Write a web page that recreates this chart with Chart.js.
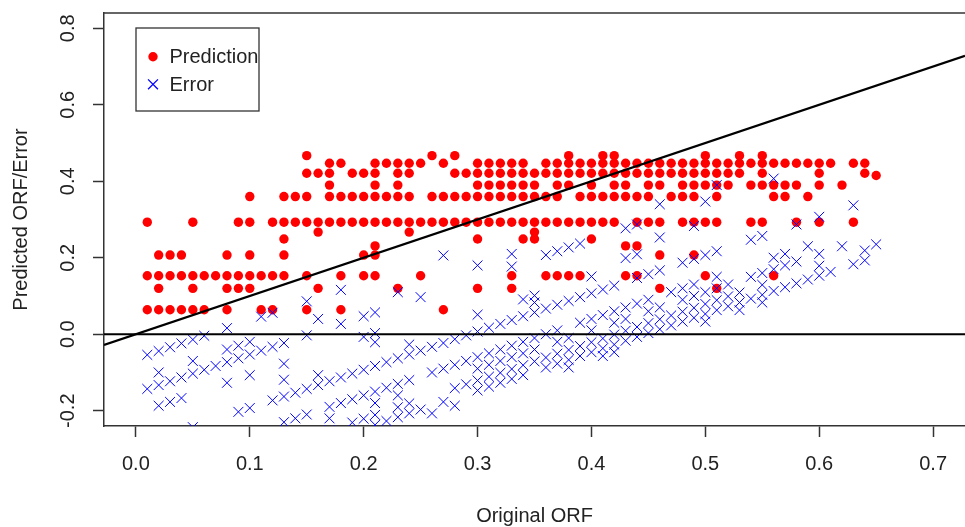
<!DOCTYPE html>
<html>
<head>
<meta charset="utf-8">
<title>Predicted ORF / Error vs Original ORF</title>
<script src="https://cdn.jsdelivr.net/npm/chart.js@4.4.1/dist/chart.umd.min.js"></script>
<style>
  html, body { margin: 0; padding: 0; background: #fff; overflow: hidden; }
  #wrap { width: 965px; height: 527px; overflow: hidden; }
</style>
</head>
<body>
<div id="wrap"><canvas id="orfPlot" width="973" height="527"></canvas></div>
<script>
// one entry per sample: original ORF, model prediction, residual (original - predicted)
const orf = [
  0.01,0.01,0.01, 0.02,0.02,0.02,0.02, 0.03,0.03,0.03, 0.04,0.04,0.04,
  0.05,0.05,0.05,0.05, 0.06,0.06, 0.07, 0.08,0.08,0.08,0.08, 0.09,0.09,0.09,
  0.10,0.10,0.10,0.10,0.10, 0.11,0.11, 0.12,0.12,0.12, 0.13,0.13,0.13,0.13,0.13,
  0.14,0.14, 0.15,0.15,0.15,0.15,0.15,0.15, 0.16,0.16,0.16,0.16,
  0.17,0.17,0.17,0.17,0.17, 0.18,0.18,0.18,0.18,0.18, 0.19,0.19,0.19,
  0.20,0.20,0.20,0.20,0.20, 0.21,0.21,0.21,0.21,0.21,0.21,0.21,0.21,
  0.22,0.22,0.22, 0.23,0.23,0.23,0.23,0.23,0.23, 0.24,0.24,0.24,0.24,0.24,
  0.25,0.25,0.25, 0.26,0.26,0.26, 0.27,0.27,0.27,0.27, 0.28,0.28,0.28,0.28,
  0.29,0.29,0.29, 0.30,0.30,0.30,0.30,0.30,0.30,0.30, 0.31,0.31,0.31,0.31,0.31,
  0.32,0.32,0.32,0.32,0.32, 0.33,0.33,0.33,0.33,0.33,0.33,0.33,
  0.34,0.34,0.34,0.34,0.34,0.34, 0.35,0.35,0.35,0.35,0.35,0.35,
  0.36,0.36,0.36,0.36,0.36, 0.37,0.37,0.37,0.37,0.37,0.37,
  0.38,0.38,0.38,0.38,0.38,0.38, 0.39,0.39,0.39,0.39,0.39,
  0.40,0.40,0.40,0.40,0.40,0.40, 0.41,0.41,0.41,0.41,0.41,
  0.42,0.42,0.42,0.42,0.42,0.42, 0.43,0.43,0.43,0.43,0.43,0.43,
  0.44,0.44,0.44,0.44,0.44,0.44, 0.45,0.45,0.45,0.45,0.45,
  0.46,0.46,0.46,0.46,0.46,0.46, 0.47,0.47,0.47, 0.48,0.48,0.48,0.48,0.48,
  0.49,0.49,0.49,0.49,0.49,0.49, 0.50,0.50,0.50,0.50,0.50,0.50,
  0.51,0.51,0.51,0.51,0.51,0.51, 0.52,0.52,0.52, 0.53,0.53,0.53, 0.54,0.54,0.54,
  0.55,0.55,0.55,0.55,0.55, 0.56,0.56,0.56,0.56, 0.57,0.57,0.57, 0.58,0.58,0.58,
  0.59,0.59, 0.60,0.60,0.60,0.60, 0.61, 0.62, 0.63,0.63, 0.64,0.64, 0.65
];

const predicted = [
  0.293,0.153,0.064, 0.207,0.153,0.12,0.064, 0.207,0.153,0.064, 0.207,0.153,0.064,
  0.293,0.153,0.12,0.064, 0.153,0.064, 0.153, 0.207,0.153,0.12,0.064, 0.293,0.153,0.12,
  0.36,0.293,0.207,0.153,0.12, 0.153,0.064, 0.293,0.153,0.064, 0.36,0.293,0.249,0.207,0.153,
  0.36,0.293, 0.467,0.421,0.36,0.293,0.153,0.064, 0.421,0.293,0.267,0.12,
  0.447,0.421,0.39,0.36,0.293, 0.447,0.36,0.293,0.153,0.064, 0.421,0.36,0.293,
  0.421,0.36,0.293,0.207,0.153, 0.447,0.421,0.39,0.36,0.293,0.231,0.207,0.153,
  0.447,0.36,0.293, 0.447,0.421,0.39,0.36,0.293,0.12, 0.447,0.421,0.36,0.293,0.267,
  0.447,0.293,0.153, 0.467,0.36,0.293, 0.447,0.36,0.293,0.064, 0.467,0.421,0.36,0.293,
  0.421,0.36,0.293, 0.447,0.421,0.39,0.36,0.293,0.249,0.12, 0.447,0.421,0.39,0.36,0.293,
  0.447,0.421,0.39,0.36,0.293, 0.447,0.421,0.39,0.36,0.293,0.153,0.12,
  0.447,0.421,0.39,0.36,0.293,0.249, 0.421,0.39,0.36,0.293,0.267,0.249,
  0.447,0.421,0.36,0.293,0.153, 0.447,0.421,0.39,0.36,0.293,0.153,
  0.467,0.447,0.421,0.39,0.293,0.153, 0.447,0.421,0.36,0.293,0.153,
  0.447,0.421,0.39,0.36,0.293,0.249, 0.467,0.447,0.421,0.36,0.293,
  0.467,0.447,0.421,0.39,0.36,0.293, 0.447,0.421,0.39,0.36,0.231,0.153,
  0.447,0.421,0.36,0.293,0.231,0.153, 0.447,0.421,0.39,0.36,0.293,
  0.447,0.421,0.39,0.293,0.207,0.12, 0.447,0.421,0.36, 0.447,0.421,0.39,0.36,0.293,
  0.447,0.421,0.39,0.36,0.293,0.207, 0.467,0.447,0.421,0.39,0.293,0.153,
  0.447,0.421,0.39,0.36,0.293,0.12, 0.447,0.421,0.39, 0.467,0.447,0.421, 0.447,0.39,0.293,
  0.467,0.447,0.421,0.39,0.293, 0.447,0.39,0.36,0.153, 0.447,0.39,0.36, 0.447,0.39,0.293,
  0.447,0.36, 0.447,0.421,0.39,0.293, 0.447, 0.39, 0.447,0.293, 0.447,0.421, 0.415
];

const error = [
  -0.283,-0.143,-0.054, -0.187,-0.133,-0.1,-0.044, -0.177,-0.123,-0.034, -0.167,-0.113,-0.024,
  -0.243,-0.103,-0.07,-0.014, -0.093,-0.004, -0.083, -0.127,-0.073,-0.04,0.016, -0.203,-0.063,-0.03,
  -0.26,-0.193,-0.107,-0.053,-0.02, -0.043,0.046, -0.173,-0.033,0.056, -0.23,-0.163,-0.119,-0.077,-0.023,
  -0.22,-0.153, -0.317,-0.271,-0.21,-0.143,-0.003,0.086, -0.261,-0.133,-0.107,0.04,
  -0.277,-0.251,-0.22,-0.19,-0.123, -0.267,-0.18,-0.113,0.027,0.116, -0.231,-0.17,-0.103,
  -0.221,-0.16,-0.093,-0.007,0.047, -0.237,-0.211,-0.18,-0.15,-0.083,-0.021,0.003,0.057,
  -0.227,-0.14,-0.073, -0.217,-0.191,-0.16,-0.13,-0.063,0.11, -0.207,-0.181,-0.12,-0.053,-0.027,
  -0.197,-0.043,0.097, -0.207,-0.1,-0.033, -0.177,-0.09,-0.023,0.206, -0.187,-0.141,-0.08,-0.013,
  -0.131,-0.07,-0.003, -0.147,-0.121,-0.09,-0.06,0.007,0.051,0.18, -0.137,-0.111,-0.08,-0.05,0.017,
  -0.127,-0.101,-0.07,-0.04,0.027, -0.117,-0.091,-0.06,-0.03,0.037,0.177,0.21,
  -0.107,-0.081,-0.05,-0.02,0.047,0.091, -0.071,-0.04,-0.01,0.057,0.083,0.101,
  -0.087,-0.061,0,0.067,0.207, -0.077,-0.051,-0.02,0.01,0.077,0.217,
  -0.087,-0.067,-0.041,-0.01,0.087,0.227, -0.057,-0.031,0.03,0.097,0.237,
  -0.047,-0.021,0.01,0.04,0.107,0.151, -0.057,-0.037,-0.011,0.05,0.117,
  -0.047,-0.027,-0.001,0.03,0.06,0.127, -0.017,0.009,0.04,0.07,0.199,0.277,
  -0.007,0.019,0.08,0.147,0.209,0.287, 0.003,0.029,0.06,0.09,0.157,
  0.013,0.039,0.07,0.167,0.253,0.34, 0.023,0.049,0.11, 0.033,0.059,0.09,0.12,0.187,
  0.043,0.069,0.1,0.13,0.197,0.283, 0.033,0.053,0.079,0.11,0.207,0.347,
  0.063,0.089,0.12,0.15,0.217,0.39, 0.073,0.099,0.13, 0.063,0.083,0.109, 0.093,0.15,0.247,
  0.083,0.103,0.129,0.16,0.257, 0.113,0.17,0.2,0.407, 0.123,0.18,0.21, 0.133,0.19,0.287,
  0.143,0.23, 0.153,0.179,0.21,0.307, 0.163, 0.23, 0.183,0.337, 0.193,0.219, 0.235
];

// plot limits (xlim 0..0.7, ylim -0.2..0.8 plus the usual 4% margin)
const xLimits = [-0.028, 0.728];
const yLimits = [-0.24, 0.84];
const xStep = 0.1;
const yStep = 0.2;

const FONT = '"Liberation Sans", Arial, sans-serif';
const INK = '#222';
const AXIS = '#333';

const predPoints = orf.map((x, i) => ({ x, y: predicted[i] }));
const errPoints = orf.map((x, i) => ({ x, y: error[i] }));

// top edge of the plot box plus the boxed key in the upper left
const frameAndKey = {
  id: 'frameAndKey',
  afterDraw(chart) {
    const { ctx, chartArea: a } = chart;
    ctx.save();
    ctx.strokeStyle = AXIS;
    ctx.lineWidth = 1.5;
    ctx.beginPath();
    ctx.moveTo(a.left, a.top);
    ctx.lineTo(a.right, a.top);
    ctx.stroke();

    const bx = a.left + 32, by = a.top + 15, bw = 123, bh = 83;
    ctx.lineWidth = 1.3;
    ctx.strokeRect(bx, by, bw, bh);

    const keyed = [chart.data.datasets[3], chart.data.datasets[2]];
    keyed.forEach((ds, i) => {
      const cy = by + 28.7 + i * 27.6;
      ctx.fillStyle = ds.backgroundColor;
      ctx.strokeStyle = ds.borderColor;
      Chart.helpers.drawPoint(ctx, {
        pointStyle: ds.pointStyle, radius: ds.pointRadius,
        borderWidth: ds.borderWidth, rotation: 0
      }, bx + 17, cy);
      ctx.fillStyle = INK;
      ctx.font = '20px ' + FONT;
      ctx.textAlign = 'left';
      ctx.textBaseline = 'middle';
      ctx.fillText(ds.label, bx + 33.5, cy + 1);
    });
    ctx.restore();
  }
};

// fixed axis sizes, no extra room reserved for overhanging tick labels
function fixBox(size) {
  return function (scale) {
    if (scale.isHorizontal()) scale.height = size; else scale.width = size;
    scale.paddingTop = 0;
    scale.paddingBottom = 0;
    scale.paddingLeft = 0;
    scale.paddingRight = 0;
  };
}

new Chart(document.getElementById('orfPlot'), {
  type: 'scatter',
  data: {
    datasets: [
      {
        label: 'y = x',
        data: [{ x: xLimits[0], y: xLimits[0] }, { x: xLimits[1], y: xLimits[1] }],
        showLine: true, pointRadius: 0, borderColor: '#000', borderWidth: 2.3,
        clip: 0, order: 0
      },
      {
        label: 'zero',
        data: [{ x: xLimits[0], y: 0 }, { x: xLimits[1], y: 0 }],
        showLine: true, pointRadius: 0, borderColor: '#000', borderWidth: 2,
        clip: 0, order: 0
      },
      {
        label: 'Error',
        data: errPoints,
        pointStyle: 'crossRot', pointRadius: 7, borderWidth: 1,
        borderColor: '#0000ff', backgroundColor: '#0000ff',
        clip: 0, order: 1
      },
      {
        label: 'Prediction',
        data: predPoints,
        pointStyle: 'circle', pointRadius: 4.7, borderWidth: 0,
        backgroundColor: '#ff0000', borderColor: '#ff0000',
        clip: 0, order: 2
      }
    ]
  },
  options: {
    responsive: false,
    animation: false,
    events: [],
    layout: { padding: { top: 13, right: 0, bottom: 0, left: 0 } },
    plugins: { legend: { display: false }, tooltip: { enabled: false } },
    scales: {
      x: {
        type: 'linear',
        min: xLimits[0], max: xLimits[1],
        afterFit: fixBox(101),
        ticks: {
          stepSize: xStep, includeBounds: false, autoSkip: false,
          maxRotation: 0, padding: 15, color: INK,
          font: { family: FONT, size: 20 },
          callback: v => v.toFixed(1)
        },
        grid: { drawOnChartArea: false, tickLength: 11, tickColor: AXIS, tickWidth: 1.5 },
        border: { color: AXIS, width: 1.5 },
        title: {
          display: true, text: 'Original ORF', color: INK,
          font: { family: FONT, size: 20, lineHeight: 1.1 },
          padding: { top: 0, bottom: 0 }
        }
      },
      y: {
        type: 'linear',
        min: yLimits[0], max: yLimits[1],
        afterFit: fixBox(104),
        ticks: {
          stepSize: yStep, includeBounds: false, autoSkip: false,
          minRotation: 90, maxRotation: 90, crossAlign: 'center',
          padding: 7, color: INK,
          font: { family: FONT, size: 20 },
          callback: v => v.toFixed(1)
        },
        grid: { drawOnChartArea: false, tickLength: 11, tickColor: AXIS, tickWidth: 1.5 },
        border: { color: AXIS, width: 1.5 },
        title: {
          display: true, text: 'Predicted ORF/Error', color: INK,
          font: { family: FONT, size: 20, lineHeight: 1.2 },
          padding: { top: 9, bottom: 0 }
        }
      }
    }
  },
  plugins: [frameAndKey]
});
</script>
</body>
</html>
